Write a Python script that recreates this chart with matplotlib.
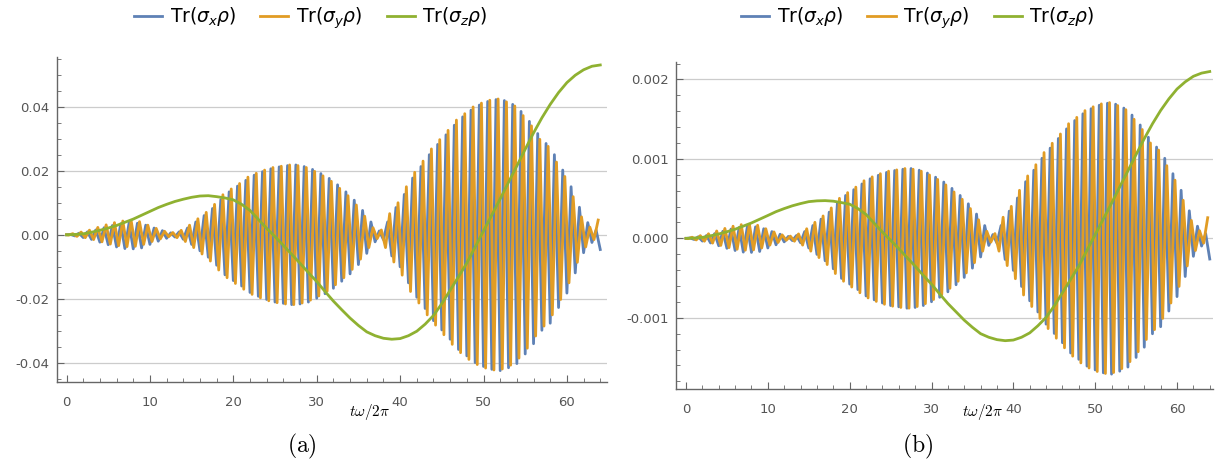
import numpy as np
import matplotlib.pyplot as plt
from matplotlib.ticker import MultipleLocator, FormatStrFormatter

# oscillation peaks (blue series) at t = 0.5, 1.0, ..., 64.0
# panel (a) in units of 1e-3, panel (b) in units of 1e-4
osc_a = [
    0.1, -0.35, 0.5, -0.85, 0.9, -1.45, 1.5, -2.3,
    2.2, -3.1, 2.9, -3.8, 3.4, -4.3, 3.7, -4.4,
    3.6, -4.1, 3.0, -3.0, 2.1, -2.0, 1.3, -1.1,
    0.6, -0.7, 0.9, -1.4, 2.1, -3.0, 4.0, -5.0,
    6.0, -7.0, 8.2, -9.5, 11.0, -12.5, 13.4, -14.3,
    15.2, -16.0, 17.0, -18.0, 18.6, -19.2, 19.7, -20.2,
    20.6, -21.0, 21.2, -21.4, 21.6, -21.8, 21.8, -21.6,
    21.3, -21.0, 20.4, -19.8, 19.1, -18.4, 17.6, -16.7,
    15.6, -14.5, 13.4, -12.2, 10.8, -9.3, 7.6, -5.8,
    4.0, -2.2, 1.2, -1.5, 4.0, -6.6, 8.5, -10.0,
    12.6, -15.0, 17.7, -19.5, 21.3, -23.0, 25.0, -26.8,
    28.2, -29.7, 31.2, -32.6, 34.2, -35.8, 36.8, -37.8,
    38.9, -39.9, 40.5, -41.1, 41.6, -42.0, 42.2, -42.4,
    41.9, -41.5, 40.7, -40.2, 38.5, -37.2, 35.4, -34.0,
    31.6, -29.8, 28.5, -27.6, 25.0, -22.7, 20.2, -18.2,
    15.0, -11.9, 8.6, -5.6, 3.8, -2.4, 1.5, -4.6,
]
osc_b = [
    0.04, -0.14, 0.2, -0.34, 0.36, -0.58, 0.6, -0.93,
    0.89, -1.25, 1.17, -1.53, 1.37, -1.73, 1.49, -1.77,
    1.45, -1.65, 1.21, -1.21, 0.85, -0.81, 0.52, -0.44,
    0.24, -0.28, 0.36, -0.56, 0.85, -1.21, 1.61, -2.02,
    2.42, -2.82, 3.3, -3.83, 4.43, -5.04, 5.4, -5.76,
    6.13, -6.45, 6.85, -7.25, 7.5, -7.74, 7.94, -8.14,
    8.3, -8.46, 8.54, -8.62, 8.7, -8.79, 8.79, -8.7,
    8.58, -8.46, 8.22, -7.98, 7.7, -7.42, 7.09, -6.73,
    6.29, -5.84, 5.4, -4.92, 4.35, -3.75, 3.06, -2.34,
    1.61, -0.89, 0.48, -0.6, 1.61, -2.66, 3.43, -4.03,
    5.08, -6.05, 7.13, -7.86, 8.58, -9.27, 10.08, -10.8,
    11.36, -11.97, 12.57, -13.14, 13.78, -14.43, 14.83, -15.23,
    15.68, -16.08, 16.32, -16.56, 16.76, -16.93, 17.01, -17.09,
    16.89, -16.72, 16.4, -16.2, 15.52, -14.99, 14.27, -13.7,
    12.73, -12.01, 11.49, -11.12, 10.08, -9.15, 8.14, -7.33,
    6.05, -4.8, 3.47, -2.26, 1.53, -0.97, 0.6, -2.6,
]

# Tr(sigma_z rho) at t = 0, 1, ..., 64
z_a = [0, 0.1, 0.3, 0.8, 1.4, 2.1, 2.9, 3.9, 4.9, 6.1, 7.3, 8.5, 9.5, 10.4,
       11.1, 11.7, 12.1, 12.2, 11.9, 11.5, 10.9, 9.5, 7.6, 4.8, 2.0, -0.6,
       -3.3, -6.1, -8.9, -11.8, -14.6, -17.7, -20.7, -23.4, -26.0, -28.3,
       -30.3, -31.5, -32.3, -32.6, -32.4, -31.5, -30.1, -27.9, -25.2, -21.5,
       -17.3, -13.1, -8.8, -3.8, 1.2, 6.2, 11.2, 16.4, 21.5, 26.7, 31.8, 36.5,
       40.7, 44.4, 47.5, 49.8, 51.5, 52.6, 53.0]
z_b = [0, 0.04, 0.12, 0.32, 0.55, 0.83, 1.15, 1.54, 1.94, 2.41, 2.88, 3.36,
       3.75, 4.1, 4.38, 4.62, 4.72, 4.75, 4.68, 4.5, 4.3, 3.75, 3.0, 1.9,
       0.79, -0.24, -1.3, -2.4, -3.5, -4.66, -5.77, -7.0, -8.2, -9.25, -10.3,
       -11.2, -12.0, -12.45, -12.75, -12.88, -12.8, -12.45, -11.9, -11.0,
       -9.95, -8.5, -6.85, -5.17, -3.48, -1.5, 0.47, 2.45, 4.42, 6.48, 8.5,
       10.55, 12.55, 14.42, 16.1, 17.55, 18.8, 19.7, 20.4, 20.8, 21.0]

labels = [r'Tr($\sigma_x\rho$)', r'Tr($\sigma_y\rho$)', r'Tr($\sigma_z\rho$)']
colors = ['#5E81B5', '#E19C24', '#8FB131']
captions = ['(a)', '(b)']

t_peaks = np.arange(1, 129) * 0.5
t_z = np.arange(0, 65)

fig = plt.figure(figsize=(12.19, 4.70), dpi=100)

panels = [
    dict(osc=osc_a, z=z_a, unit=1e-3, rect=[0.0465, 0.1862, 0.4514, 0.6926],
         xlim=(-1.18, 64.8), ylim=(-0.0461, 0.0555), major=0.02, minor=0.005,
         fmt='%.2f', leg_x=0.255, cap_x=0.248, lab_x=0.3035),
    dict(osc=osc_b, z=z_b, unit=1e-4, rect=[0.5543, 0.1717, 0.4408, 0.6964],
         xlim=(-1.26, 64.4), ylim=(-0.0019, 0.00222), major=0.001, minor=0.0002,
         fmt='%.3f', leg_x=0.753, cap_x=0.753, lab_x=0.806),
]

for i, p in enumerate(panels):
    ax = fig.add_axes(p['rect'])
    osc = np.array(p['osc']) * p['unit']
    tx = np.concatenate([[0], t_peaks])
    ty = np.concatenate([[0], t_peaks - 0.25])
    xs = np.concatenate([[0], osc])
    ys = np.concatenate([[0], -osc])
    zs = np.array(p['z']) * p['unit']

    l1, = ax.plot(tx, xs, color=colors[0], lw=2.0)
    l2, = ax.plot(ty, ys, color=colors[1], lw=2.0)
    l3, = ax.plot(t_z, zs, color=colors[2], lw=2.0)

    ax.set_xlim(*p['xlim'])
    ax.set_ylim(*p['ylim'])
    for s in ['top', 'right']:
        ax.spines[s].set_visible(False)
    for s in ['left', 'bottom']:
        ax.spines[s].set_color('#666666')
        ax.spines[s].set_linewidth(1.0)

    ax.xaxis.set_major_locator(MultipleLocator(10))
    ax.xaxis.set_minor_locator(MultipleLocator(2))
    ax.yaxis.set_major_locator(MultipleLocator(p['major']))
    ax.yaxis.set_minor_locator(MultipleLocator(p['minor']))
    ax.yaxis.set_major_formatter(FormatStrFormatter(p['fmt']))
    ax.tick_params(which='both', direction='in', color='#666666',
                   labelcolor='#555555', labelsize=9.5)
    ax.tick_params(which='major', length=5)
    ax.tick_params(which='minor', length=3)
    ax.tick_params(axis='x', pad=10)
    ax.tick_params(axis='y', pad=5)

    ax.grid(True, which='major', color='#cccccc', lw=0.9)
    ax.set_axisbelow(True)
    for tk in ax.xaxis.get_major_ticks():
        if abs(tk.get_loc()) < 1e-9:
            tk.gridline.set_visible(False)

    fig.legend([l1, l2, l3], labels, loc='center',
               bbox_to_anchor=(p['leg_x'], 0.962), ncol=3, frameon=False,
               fontsize=13.5, handlelength=1.5, columnspacing=1.3,
               handletextpad=0.4)

    fig.text(p['lab_x'], 0.124, r'$t\omega/2\pi$', ha='center', va='center',
             fontsize=11, math_fontfamily='cm')
    fig.text(p['cap_x'], 0.05, r'$\mathrm{' + captions[i] + '}$',
             ha='center', va='center', fontsize=17, math_fontfamily='cm')

fig.savefig('out.png', dpi=100)
